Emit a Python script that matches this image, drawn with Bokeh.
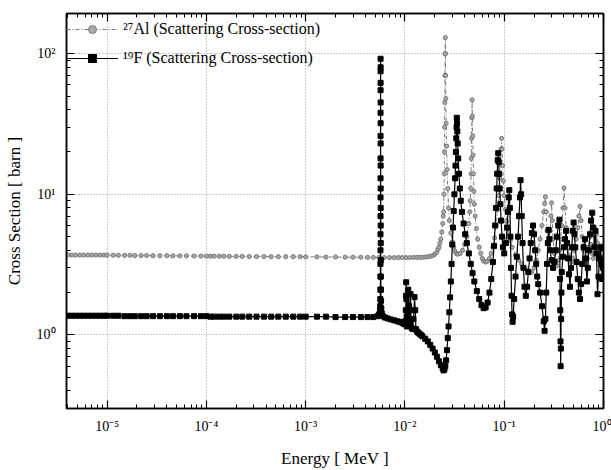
from bokeh.plotting import figure
from bokeh.models import (FixedTicker, CustomJSTickFormatter, LogAxis, Legend,
                          LegendItem, ColumnDataSource)
from bokeh.embed import file_html
from bokeh.resources import INLINE

# ---------------- data ----------------
al_energy = [
    4.0e-6, 4.4e-6, 4.8e-6, 5.3e-6, 5.8e-6, 6.4e-6, 7.0e-6, 7.7e-6, 8.5e-6, 9.3e-6,
    1.0e-5, 1.15e-5, 1.3e-5, 1.5e-5, 1.7e-5, 1.9e-5, 2.2e-5, 2.5e-5, 2.9e-5, 3.4e-5,
    4.0e-5, 4.6e-5, 5.4e-5, 6.3e-5, 7.5e-5, 8.8e-5, 1.0e-4, 1.1e-4, 1.2e-4, 1.35e-4,
    1.5e-4, 1.7e-4, 2.0e-4, 2.3e-4, 2.7e-4, 3.2e-4, 3.8e-4, 4.5e-4, 5.3e-4, 6.3e-4,
    7.5e-4, 8.8e-4, 1.0e-3, 1.3e-3, 1.6e-3, 2.0e-3, 2.5e-3, 3.0e-3, 3.6e-3, 4.2e-3,
    4.8e-3, 5.5e-3, 6.2e-3, 7.0e-3, 7.8e-3, 8.6e-3, 9.4e-3, 1.03e-2, 1.12e-2, 1.22e-2,
    1.32e-2, 1.42e-2, 1.52e-2, 1.62e-2, 1.72e-2, 1.82e-2, 1.92e-2, 2.0e-2, 2.08e-2, 2.15e-2,
    2.2e-2, 2.25e-2, 2.3e-2, 2.35e-2, 2.4e-2, 2.43e-2, 2.45e-2, 2.47e-2, 2.49e-2, 2.5e-2,
    2.51e-2, 2.52e-2, 2.53e-2, 2.54e-2, 2.55e-2, 2.56e-2, 2.57e-2, 2.58e-2, 2.6e-2, 2.63e-2,
    2.66e-2, 2.7e-2, 2.75e-2, 2.8e-2, 2.9e-2, 3.0e-2, 3.1e-2, 3.2e-2, 3.3e-2, 3.4e-2,
    3.6e-2, 3.8e-2, 4.0e-2, 4.2e-2, 4.4e-2, 4.5e-2, 4.55e-2, 4.6e-2, 4.63e-2, 4.66e-2,
    4.69e-2, 4.72e-2, 4.75e-2, 4.78e-2, 4.81e-2, 4.85e-2, 4.9e-2, 4.95e-2, 5.0e-2, 5.1e-2,
    5.25e-2, 5.4e-2, 5.6e-2, 5.8e-2, 6.0e-2, 6.2e-2, 6.5e-2, 6.8e-2, 7.1e-2, 7.4e-2,
    7.7e-2, 8.0e-2, 8.3e-2, 8.6e-2, 8.8e-2, 9.0e-2, 9.15e-2, 9.3e-2, 9.4e-2, 9.5e-2,
    9.65e-2, 9.8e-2, 1.0e-1, 1.03e-1, 1.06e-1, 1.1e-1, 1.15e-1, 1.2e-1, 1.3e-1, 1.4e-1,
    1.5e-1, 1.6e-1, 1.7e-1, 1.8e-1, 1.9e-1, 2.0e-1, 2.1e-1, 2.2e-1, 2.3e-1, 2.4e-1,
    2.5e-1, 2.55e-1, 2.6e-1, 2.65e-1, 2.7e-1, 2.8e-1, 2.9e-1, 2.95e-1, 3.0e-1, 3.05e-1,
    3.1e-1, 3.2e-1, 3.3e-1, 3.4e-1, 3.5e-1, 3.6e-1, 3.7e-1, 3.8e-1, 3.9e-1, 4.0e-1,
    4.1e-1, 4.2e-1, 4.3e-1, 4.5e-1, 4.7e-1, 4.9e-1, 5.1e-1, 5.3e-1, 5.5e-1, 5.65e-1,
    5.8e-1, 5.95e-1, 6.1e-1, 6.3e-1, 6.5e-1, 6.7e-1, 6.9e-1, 7.1e-1, 7.3e-1, 7.5e-1,
    7.7e-1, 7.9e-1, 8.1e-1, 8.3e-1, 8.5e-1, 8.7e-1, 8.9e-1, 9.1e-1, 9.3e-1, 9.5e-1,
    9.7e-1, 1.0,
]
al_sigma = [
    3.70, 3.70, 3.70, 3.70, 3.70, 3.70, 3.70, 3.70, 3.70, 3.70,
    3.69, 3.69, 3.68, 3.68, 3.68, 3.67, 3.67, 3.67, 3.66, 3.66,
    3.66, 3.65, 3.65, 3.65, 3.64, 3.64, 3.64, 3.63, 3.63, 3.63,
    3.63, 3.62, 3.62, 3.62, 3.61, 3.61, 3.61, 3.60, 3.60, 3.60,
    3.60, 3.60, 3.59, 3.59, 3.58, 3.58, 3.57, 3.57, 3.57, 3.56,
    3.56, 3.56, 3.55, 3.55, 3.55, 3.55, 3.55, 3.55, 3.55, 3.56,
    3.56, 3.56, 3.57, 3.58, 3.60, 3.63, 3.68, 3.75, 3.85, 4.05,
    4.2, 4.5, 4.8, 5.4, 6.2, 7.0, 7.5, 10, 14, 20,
    30, 45, 70, 100, 130, 100, 70, 48, 32, 22,
    15, 11, 8.0, 6.5, 5.3, 4.6, 4.2, 3.95, 3.8, 3.75,
    3.8, 4.0, 4.4, 5.0, 6.2, 7.5, 9, 11, 14, 18,
    25, 35, 47, 36, 26, 19, 14, 10.5, 8.5, 7.0,
    5.7, 4.8, 4.2, 3.8, 3.5, 3.35, 3.3, 3.35, 3.5, 3.8,
    4.2, 4.9, 6.0, 7.8, 9.8, 13, 16.5, 21, 25, 21,
    16, 12.5, 9.8, 7.8, 6.4, 5.4, 4.7, 4.2, 3.7, 3.4,
    3.2, 3.0, 2.9, 2.8, 2.8, 3.0, 3.4, 4.0, 4.8, 6.0,
    7.5, 8.6, 9.6, 7.5, 5.5, 4.4, 5.5, 7.0, 8.7, 6.5,
    4.8, 3.8, 3.3, 3.1, 3.4, 4.0, 4.8, 6.0, 8.0, 11.1,
    8.0, 5.8, 4.5, 3.7, 3.3, 3.5, 4.0, 4.8, 5.8, 7.0,
    8.2, 6.5, 5.0, 4.0, 3.4, 3.2, 3.5, 4.2, 5.0, 4.4,
    3.8, 3.5, 3.8, 4.4, 5.2, 4.5, 3.8, 3.4, 3.7, 4.3,
    3.8, 3.4,
]

f_energy = [
    4.0e-6, 4.4e-6, 4.8e-6, 5.3e-6, 5.8e-6, 6.4e-6, 7.0e-6, 7.7e-6, 8.5e-6, 9.3e-6,
    1.0e-5, 1.15e-5, 1.3e-5, 1.5e-5, 1.7e-5, 1.9e-5, 2.2e-5, 2.5e-5, 2.9e-5, 3.4e-5,
    4.0e-5, 4.6e-5, 5.4e-5, 6.3e-5, 7.5e-5, 8.8e-5, 1.0e-4, 1.1e-4, 1.2e-4, 1.35e-4,
    1.5e-4, 1.7e-4, 2.0e-4, 2.3e-4, 2.7e-4, 3.2e-4, 3.8e-4, 4.5e-4, 5.3e-4, 6.3e-4,
    7.5e-4, 8.8e-4, 1.0e-3, 1.3e-3, 1.6e-3, 2.0e-3, 2.5e-3, 3.0e-3, 3.6e-3, 4.2e-3,
    4.8e-3, 5.3e-3, 5.5e-3, 5.6e-3, 5.63e-3, 5.645e-3, 5.655e-3, 5.662e-3, 5.667e-3, 5.671e-3,
    5.674e-3, 5.676e-3, 5.678e-3, 5.679e-3, 5.680e-3, 5.681e-3, 5.682e-3, 5.683e-3, 5.684e-3, 5.685e-3,
    5.686e-3, 5.687e-3, 5.688e-3, 5.689e-3, 5.690e-3, 5.692e-3, 5.694e-3, 5.697e-3, 5.701e-3, 5.706e-3,
    5.712e-3, 5.72e-3, 5.73e-3, 5.75e-3, 5.78e-3, 5.85e-3, 6.0e-3, 6.3e-3, 6.7e-3, 7.2e-3,
    7.8e-3, 8.4e-3, 8.9e-3, 9.4e-3, 9.8e-3, 1.0e-2, 1.01e-2, 1.02e-2, 1.025e-2, 1.03e-2,
    1.035e-2, 1.04e-2, 1.05e-2, 1.06e-2, 1.08e-2, 1.1e-2, 1.12e-2, 1.13e-2, 1.14e-2, 1.15e-2,
    1.17e-2, 1.2e-2, 1.22e-2, 1.25e-2, 1.27e-2, 1.29e-2, 1.32e-2, 1.36e-2, 1.4e-2, 1.45e-2,
    1.5e-2, 1.6e-2, 1.7e-2, 1.8e-2, 1.9e-2, 2.0e-2, 2.1e-2, 2.2e-2, 2.3e-2, 2.4e-2,
    2.45e-2, 2.5e-2, 2.55e-2, 2.6e-2, 2.65e-2, 2.7e-2, 2.75e-2, 2.8e-2, 2.85e-2, 2.9e-2,
    2.95e-2, 3.0e-2, 3.05e-2, 3.1e-2, 3.15e-2, 3.2e-2, 3.23e-2, 3.26e-2, 3.29e-2, 3.31e-2,
    3.33e-2, 3.35e-2, 3.37e-2, 3.4e-2, 3.44e-2, 3.5e-2, 3.57e-2, 3.65e-2, 3.75e-2, 3.9e-2,
    4.05e-2, 4.2e-2, 4.4e-2, 4.6e-2, 4.8e-2, 5.0e-2, 5.3e-2, 5.6e-2, 5.9e-2, 6.2e-2,
    6.5e-2, 6.8e-2, 7.1e-2, 7.4e-2, 7.7e-2, 7.9e-2, 8.1e-2, 8.25e-2, 8.4e-2, 8.5e-2,
    8.6e-2, 8.7e-2, 8.8e-2, 8.9e-2, 9.0e-2, 9.15e-2, 9.3e-2, 9.5e-2, 9.7e-2, 1.0e-1,
    1.04e-1, 1.07e-1, 1.09e-1, 1.11e-1, 1.125e-1, 1.14e-1, 1.155e-1, 1.17e-1, 1.185e-1, 1.2e-1,
    1.215e-1, 1.23e-1, 1.26e-1, 1.3e-1, 1.34e-1, 1.38e-1, 1.41e-1, 1.44e-1, 1.46e-1, 1.48e-1,
    1.5e-1, 1.53e-1, 1.56e-1, 1.6e-1, 1.65e-1, 1.7e-1, 1.75e-1, 1.8e-1, 1.85e-1, 1.9e-1,
    1.95e-1, 2.0e-1, 2.05e-1, 2.1e-1, 2.15e-1, 2.2e-1, 2.3e-1, 2.4e-1, 2.5e-1, 2.55e-1,
    2.6e-1, 2.65e-1, 2.7e-1, 2.75e-1, 2.8e-1, 2.85e-1, 2.9e-1, 3.0e-1, 3.1e-1, 3.2e-1,
    3.3e-1, 3.4e-1, 3.5e-1, 3.6e-1, 3.65e-1, 3.67e-1, 3.69e-1, 3.7e-1, 3.72e-1, 3.74e-1,
    3.77e-1, 3.8e-1, 3.9e-1, 4.0e-1, 4.1e-1, 4.2e-1, 4.3e-1, 4.4e-1, 4.5e-1, 4.6e-1,
    4.7e-1, 4.8e-1, 4.9e-1, 5.0e-1, 5.1e-1, 5.2e-1, 5.35e-1, 5.5e-1, 5.65e-1, 5.8e-1,
    5.95e-1, 6.1e-1, 6.3e-1, 6.5e-1, 6.65e-1, 6.8e-1, 6.95e-1, 7.1e-1, 7.3e-1, 7.5e-1,
    7.7e-1, 7.9e-1, 8.1e-1, 8.3e-1, 8.5e-1, 8.7e-1, 8.9e-1, 9.1e-1, 9.3e-1, 9.5e-1,
    9.7e-1, 9.9e-1, 1.0,
]
f_sigma = [
    1.37, 1.37, 1.37, 1.37, 1.37, 1.37, 1.37, 1.37, 1.37, 1.37,
    1.37, 1.37, 1.37, 1.36, 1.36, 1.36, 1.36, 1.36, 1.36, 1.36,
    1.36, 1.36, 1.36, 1.36, 1.36, 1.36, 1.36, 1.35, 1.35, 1.35,
    1.35, 1.35, 1.35, 1.35, 1.35, 1.35, 1.35, 1.35, 1.35, 1.35,
    1.35, 1.35, 1.35, 1.35, 1.35, 1.34, 1.34, 1.34, 1.34, 1.34,
    1.34, 1.36, 1.40, 1.48, 1.6, 1.8, 2.1, 2.6, 3.2, 4.0,
    5.2, 7.0, 9.5, 13, 18, 26, 38, 55, 75, 92,
    80, 62, 45, 32, 23, 16, 11, 8.0, 6.0, 4.5,
    3.4, 2.6, 2.1, 1.75, 1.55, 1.42, 1.36, 1.33, 1.31, 1.29,
    1.27, 1.25, 1.24, 1.22, 1.2, 1.19, 1.25, 1.5, 1.9, 2.37,
    1.8, 1.35, 1.15, 1.4, 2.1, 1.6, 1.2, 1.5, 1.95, 1.3,
    1.12, 1.1, 1.3, 1.86, 1.5, 1.1, 1.06, 1.04, 1.02, 1.0,
    0.98, 0.94, 0.9, 0.85, 0.8, 0.75, 0.7, 0.65, 0.61, 0.58,
    0.56, 0.57, 0.6, 0.66, 0.78, 0.95, 1.15, 1.45, 1.85, 2.4,
    3.2, 4.4, 5.8, 7.6, 10, 13, 16, 20, 25, 30,
    35, 32, 28, 23, 18, 14, 11, 9.0, 7.5, 6.2,
    5.2, 4.5, 3.8, 3.2, 2.75, 2.4, 2.05, 1.8, 1.63, 1.55,
    1.57, 1.7, 2.0, 2.5, 3.3, 4.3, 6.0, 8.0, 11, 14,
    17.5, 19.6, 17, 14, 11, 8.5, 6.5, 5.0, 4.2, 3.8,
    4.5, 5.8, 7.5, 9.5, 10.7, 8.0, 5.0, 3.0, 1.9, 1.4,
    1.24, 1.35, 1.8, 2.6, 3.6, 5.0, 7.0, 9.5, 12.6, 10,
    7.0, 4.5, 3.0, 2.2, 1.9, 2.2, 2.8, 3.5, 4.5, 5.3,
    6.0, 5.2, 4.0, 3.2, 2.6, 2.3, 2.0, 1.6, 1.25, 1.07,
    1.3, 2.0, 3.2, 4.5, 5.6, 4.8, 4.0, 3.4, 3.0, 3.3,
    4.0, 5.0, 6.0, 6.6, 2.5, 1.5, 0.9, 0.6, 0.8, 1.3,
    2.0, 2.8, 3.6, 4.2, 4.8, 5.5, 4.5, 3.5, 2.7, 2.2,
    3.0, 4.2, 5.5, 6.3, 5.2, 4.2, 3.3, 2.5, 2.0, 1.8,
    2.3, 3.2, 4.2, 4.8, 3.5, 2.4, 3.0, 4.0, 5.2, 6.5,
    7.4, 5.8, 4.2, 5.5, 3.8, 1.95, 2.6, 3.5, 4.2, 3.2,
    2.5, 3.0, 3.4,
]

x_major = [1e-5, 1e-4, 1e-3, 1e-2, 1e-1, 1.0]
y_major = [1.0, 10.0, 100.0]
legend_labels = ["\u00b2\u2077Al (Scattering Cross-section)",
                 "\u00b9\u2079F (Scattering Cross-section)"]
x_title = "Energy [ MeV ]"
y_title = "Cross Section [ barn ]"

# ---------------- figure ----------------
SERIF = "Liberation Serif"

p = figure(width=611, height=470, x_axis_type="log", y_axis_type="log",
           x_range=(3.9e-6, 1.0), y_range=(0.30, 193),
           output_backend="svg", toolbar_location=None,
           min_border_left=66, min_border_right=8,
           min_border_top=13, min_border_bottom=60)
p.background_fill_color = "white"
p.border_fill_color = "white"
p.outline_line_color = "black"
p.outline_line_width = 1.5

x_minor = [m * 10.0 ** e for e in range(-6, 1) for m in range(2, 10)]
y_minor = [m * 10.0 ** e for e in range(-1, 3) for m in range(2, 10)]
x_ticker = FixedTicker(ticks=x_major, minor_ticks=x_minor)
y_ticker = FixedTicker(ticks=y_major, minor_ticks=y_minor)

sup_js = """
const e = Math.round(Math.log10(tick));
const m = {"-":"\u207b","0":"\u2070","1":"\u00b9","2":"\u00b2","3":"\u00b3",
           "4":"\u2074","5":"\u2075","6":"\u2076","7":"\u2077","8":"\u2078","9":"\u2079"};
return "10" + String(e).split("").map(c => m[c]).join("");
"""

def style_axis(ax):
    ax.major_tick_in = 8
    ax.major_tick_out = 0
    ax.minor_tick_in = 4
    ax.minor_tick_out = 0
    ax.axis_line_width = 1.5
    ax.major_tick_line_width = 1.2
    ax.minor_tick_line_width = 1
    ax.axis_line_color = "black"
    ax.major_tick_line_color = "black"
    ax.minor_tick_line_color = "black"
    ax.major_label_text_font = SERIF
    ax.major_label_text_font_size = "14px"
    ax.major_label_text_color = "black"
    ax.axis_label_text_font = SERIF
    ax.axis_label_text_font_size = "17px"
    ax.axis_label_text_font_style = "normal"
    ax.axis_label_text_color = "black"

p.xaxis.ticker = x_ticker
p.yaxis.ticker = y_ticker
p.xaxis.formatter = CustomJSTickFormatter(code=sup_js)
p.yaxis.formatter = CustomJSTickFormatter(code=sup_js)
p.xaxis.axis_label = x_title
p.yaxis.axis_label = y_title
for ax in p.xaxis + p.yaxis:
    style_axis(ax)
p.xaxis.major_label_standoff = 10
p.xaxis.axis_label_standoff = 12
p.yaxis.major_label_standoff = 11
p.yaxis.axis_label_standoff = 10

blank = "return '';"
top_ax = LogAxis(ticker=x_ticker, formatter=CustomJSTickFormatter(code=blank))
right_ax = LogAxis(ticker=y_ticker, formatter=CustomJSTickFormatter(code=blank))
for ax in (top_ax, right_ax):
    style_axis(ax)
    ax.major_label_text_font_size = "1px"
    ax.major_label_standoff = 0
p.add_layout(top_ax, "above")
p.add_layout(right_ax, "right")

p.xgrid.ticker = x_ticker
p.ygrid.ticker = y_ticker
for g in (p.xgrid, p.ygrid):
    g.grid_line_color = "#9a9a9a"
    g.grid_line_dash = "1 2"
    g.grid_line_width = 1

al_src = ColumnDataSource(dict(e=al_energy, s=al_sigma))
f_src = ColumnDataSource(dict(e=f_energy, s=f_sigma))

al_line = p.line("e", "s", source=al_src, line_color="#7a7a7a",
                 line_width=1, line_dash="4 2 1 2")
al_pts = p.scatter("e", "s", source=al_src, marker="circle", size=4.2,
                   fill_color="#a8a8a8", line_color="#6a6a6a", line_width=0.8)
f_line = p.line("e", "s", source=f_src, line_color="black", line_width=1.2)
f_pts = p.scatter("e", "s", source=f_src, marker="square", size=5,
                  fill_color="black", line_color="black")

legend = Legend(items=[LegendItem(label=legend_labels[0], renderers=[al_line, al_pts]),
                       LegendItem(label=legend_labels[1], renderers=[f_line, f_pts])],
                location=(0, 340), glyph_width=52, glyph_height=20,
                label_height=20, spacing=9, padding=0, margin=0,
                label_standoff=5, border_line_alpha=0,
                background_fill_alpha=0,
                label_text_font=SERIF, label_text_font_size="16px",
                label_text_color="black")
p.add_layout(legend)

open("out.html", "w").write(file_html(p, INLINE))
